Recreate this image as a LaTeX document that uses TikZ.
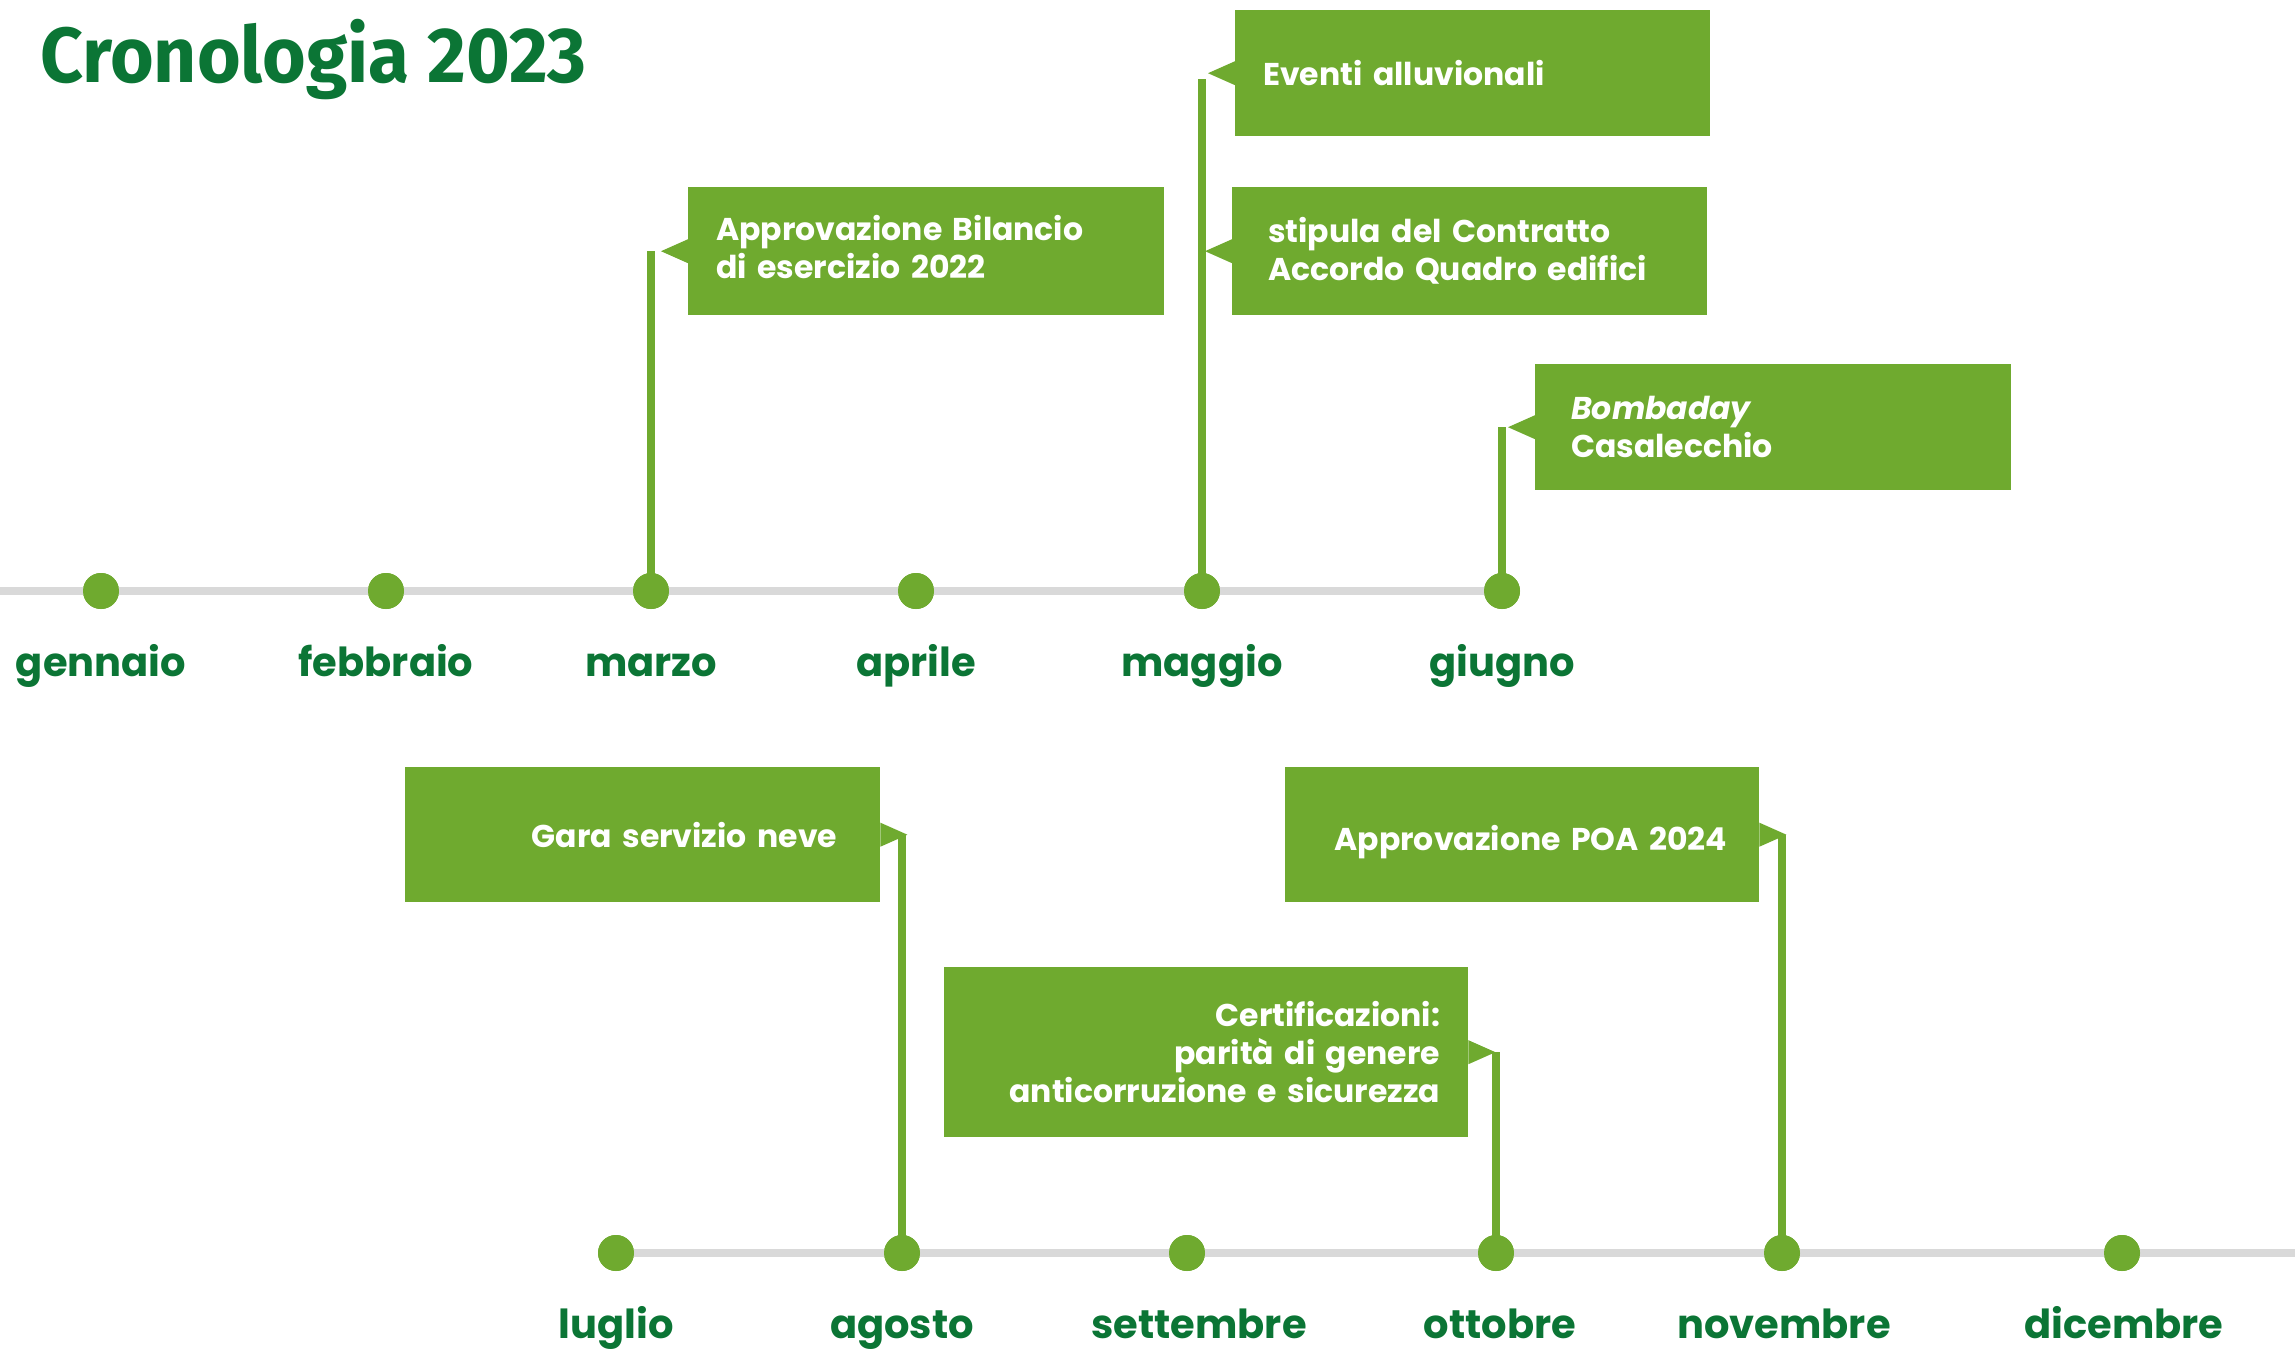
\documentclass[tikz,border=0pt]{standalone}
\usepackage{fontspec}
\setmainfont{Poppins}
\newfontfamily\titlefont{Fira Sans}[FakeStretch=0.96]
\usetikzlibrary{calc}
\definecolor{evgreen}{HTML}{6FAA2F}
\definecolor{dkgreen}{HTML}{0B7535}
\definecolor{tlgray}{HTML}{D9D9D9}
\begin{document}
\begin{tikzpicture}[x=1bp,y=-1bp,
  tline/.style={draw=tlgray,line width=8bp},
  stem/.style={draw=evgreen,line width=8bp},
  dot/.style={circle,fill=evgreen,minimum size=36bp,inner sep=0pt},
  month/.style={anchor=base,text=dkgreen,font=\fontsize{40bp}{48bp}\selectfont\bfseries},
  evbox/.style={fill=evgreen,text=white,inner ysep=0pt,
    font=\fontsize{31.5bp}{38bp}\selectfont\bfseries},
  ptr/.style={fill=evgreen}]
\useasboundingbox (0,0) rectangle (2295,1349);
\node[anchor=base west,text=dkgreen,inner sep=0pt,font=\titlefont\fontsize{78bp}{90bp}\selectfont\bfseries] (title) at (40,83) {Cronologia 2023};

% dots
\node[dot] (gen) at (101,591) {};
\node[dot] (feb) at (386,591) {};
\node[dot] (mar) at (651,591) {};
\node[dot] (apr) at (916,591) {};
\node[dot] (mag) at (1202,591) {};
\node[dot] (giu) at (1502,591) {};
\node[dot] (lug) at (616,1253) {};
\node[dot] (ago) at (902,1253) {};
\node[dot] (set) at (1187,1253) {};
\node[dot] (ott) at (1496,1253) {};
\node[dot] (nov) at (1782,1253) {};
\node[dot] (dic) at (2122,1253) {};
\coordinate (tlstart) at (0,591);
\coordinate (tlend) at (2295,1253);

% boxes
\node[evbox,anchor=north west,minimum width=476bp,minimum height=128bp,text width=420bp,inner xsep=28bp,align=left] (bil) at (688,187) {Approvazione Bilancio\\di esercizio 2022\vphantom{p}};
\node[evbox,anchor=north west,minimum width=475bp,minimum height=126bp,text width=419bp,inner xsep=28bp,align=left] (evt) at (1235,10) {Eventi alluvionali};
\node[evbox,anchor=north west,minimum width=475bp,minimum height=128bp,text width=403bp,inner xsep=36bp,align=left] (stp) at (1232,187) {stipula del Contratto\\Accordo Quadro edifici};
\node[evbox,anchor=north west,minimum width=476bp,minimum height=126bp,text width=404bp,inner xsep=36bp,align=left] (bom) at (1535,364) {\textit{Bombaday}\\Casalecchio};
\node[evbox,anchor=north west,minimum width=475bp,minimum height=135bp,text width=389bp,inner xsep=43bp,align=right] (gar) at (405,767) {Gara servizio neve};
\node[evbox,anchor=north west,minimum width=524bp,minimum height=170bp,text width=468bp,inner xsep=28bp,align=right] (cer) at (944,967) {Certificazioni:\\parità di genere\\anticorruzione e sicurezza};
\node[evbox,anchor=north west,minimum width=474bp,minimum height=135bp,text width=410bp,inner xsep=32bp,align=right] (poa) at (1285,767) {\raisebox{-7bp}[\height][\depth]{Approvazione POA 2024}};

% timelines
\draw[tline] (tlstart) -- (giu.center);
\draw[tline] (lug.center) -- (tlend);

% stems
\draw[stem] (mar.center) -- (mar.center |- bil.west);
\draw[stem] (mag.center) -- ($(mag.center |- evt.west)+(0,6)$);
\draw[stem] (giu.center) -- (giu.center |- bom.west);
\draw[stem] (ago.center) -- (ago.center |- gar.east);
\draw[stem] (ott.center) -- (ott.center |- cer.east);
\draw[stem] (nov.center) -- (nov.center |- poa.east);

% pointers
\foreach \b in {bil,evt,stp,bom}{
  \fill[ptr] ($(\b.west)+(0,-12)$) -- ($(\b.west)+(-27,0)$) -- ($(\b.west)+(0,12)$) -- cycle;
}
\foreach \b in {gar,cer,poa}{
  \fill[ptr] ($(\b.east)+(0,-12)$) -- ($(\b.east)+(27,0)$) -- ($(\b.east)+(0,12)$) -- cycle;
}

% dots on top
\foreach \d in {gen,feb,mar,apr,mag,giu,lug,ago,set,ott,nov,dic}{\fill[evgreen] (\d) circle (18);}

% month labels
\node[month] (lgen) at ($(gen.center)+(0,85)$) {gennaio};
\node[month] (lfeb) at ($(feb.center)+(0,85)$) {febbraio};
\node[month] (lmar) at ($(mar.center)+(0,85)$) {marzo};
\node[month] (lapr) at ($(apr.center)+(0,85)$) {aprile};
\node[month] (lmag) at ($(mag.center)+(0,85)$) {maggio};
\node[month] (lgiu) at ($(giu.center)+(0,85)$) {giugno};
\node[month] (llug) at ($(lug.center)+(0,85)$) {luglio};
\node[month] (lago) at ($(ago.center)+(0,85)$) {agosto};
\node[month] (lset) at ($(set.center)+(12,85)$) {settembre};
\node[month] (lott) at ($(ott.center)+(4,85)$) {ottobre};
\node[month] (lnov) at ($(nov.center)+(2,85)$) {novembre};
\node[month] (ldic) at ($(dic.center)+(2,85)$) {dicembre};
\end{tikzpicture}
\end{document}
